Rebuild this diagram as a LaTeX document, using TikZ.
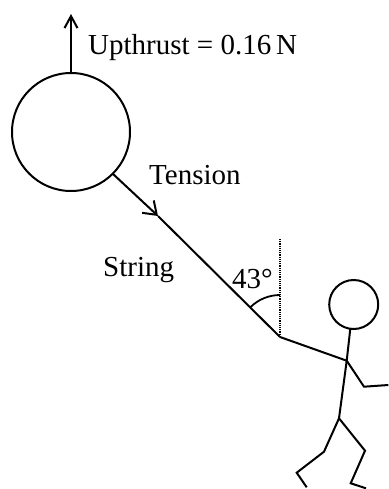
\documentclass[tikz,border=0pt]{standalone}
\usepackage{fontspec}
\setmainfont{Liberation Serif}
\usepackage{tikz}
\usetikzlibrary{arrows.meta}
\tikzstyle{ball}  = [circle, draw=black, line width=2pt, inner sep=0pt, outer sep=0pt]
\tikzstyle{limb}  = [line width=2pt]
\tikzstyle{force} = [line width=2pt, -{Straight Barb[length=12pt,width=13pt]}]
\tikzstyle{txt}   = [anchor=base west, inner sep=0pt, font=\fontsize{29}{34}\selectfont]
\tikzstyle{plumb} = [densely dotted, line width=1.2pt]

\begin{document}
\begin{tikzpicture}[x=1pt, y=1pt]
    \useasboundingbox (0,0) rectangle (388,-489);

    % balloon and its forces
    \node (balloon) [ball, minimum size=118pt] at (71,-132) {};
    \coordinate (top)  at (71,-14);
    \coordinate (tip)  at (158,-216);
    \coordinate (hand) at (280,-337);
    \coordinate (plumbtop) at (280,-239);

    \draw [force] (balloon.north) -- (top);
    \draw [force, -{Straight Barb[length=12pt,width=17pt]}] (balloon.-45) -- (tip);
    \draw [limb] (tip) -- (hand);
    \draw [plumb] (hand) -- (plumbtop);
    \draw [limb, line width=1.8pt] (hand) ++(0,42) arc[start angle=90, end angle=135, radius=42];

    \node (upthrust) [txt] at (88,-55)  {Upthrust = 0.16\,N};
    \node (tension)  [txt] at (149,-184) {Tension};
    \node (string)   [txt] at (103,-276) {String};
    \node (angle)    [txt] at (232,-288) {43°};

    % stick figure
    \node (head) [ball, minimum size=49pt] at (353.7,-304.5) {};
    \coordinate (shoulder) at (346.7,-360.7);
    \coordinate (elbow)    at (364,-386.7);
    \coordinate (fist)     at (388.3,-385);
    \coordinate (hip)      at (339,-418.3);
    \coordinate (lknee)    at (324,-451.7);
    \coordinate (lheel)    at (296.7,-472.7);
    \coordinate (ltoe)     at (306.7,-487.3);
    \coordinate (rknee)    at (365,-450.7);
    \coordinate (rheel)    at (350.7,-483.3);
    \coordinate (rtoe)     at (366,-488.3);

    \draw [limb] (hand) -- (shoulder);
    \draw [limb] (head.-98) -- (shoulder) -- (hip);
    \draw [limb] (shoulder) -- (elbow) -- (fist);
    \draw [limb] (hip) -- (lknee) -- (lheel) -- (ltoe);
    \draw [limb] (hip) -- (rknee) -- (rheel) -- (rtoe);

\end{tikzpicture}
\end{document}
